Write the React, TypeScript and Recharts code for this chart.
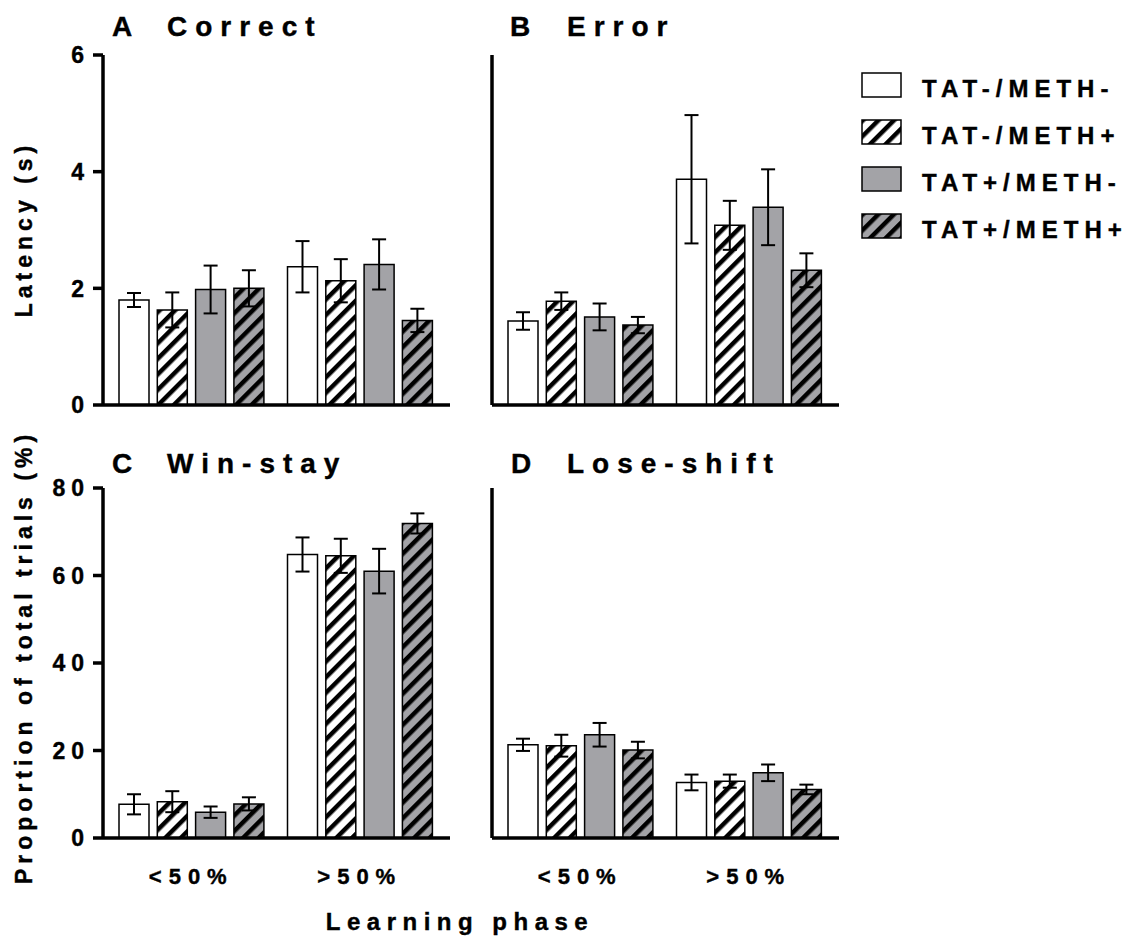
import React from "react";
import { BarChart, Bar, XAxis, YAxis, ErrorBar, Legend } from "recharts";

const FONT = '"Liberation Sans", Arial, Helvetica, sans-serif';
const GRAY = "#a3a3a7";

const phases = ["<50%", ">50%"];
const groups = ["TAT-/METH-", "TAT-/METH+", "TAT+/METH-", "TAT+/METH+"];

// rows: learning phase (<50%, >50%), columns: groups
const correctMean = [
  [1.8, 1.63, 1.98, 2.0],
  [2.37, 2.13, 2.41, 1.45],
];
const correctSem = [
  [0.12, 0.3, 0.41, 0.31],
  [0.44, 0.37, 0.43, 0.2],
];
const errorMean = [
  [1.44, 1.78, 1.51, 1.37],
  [3.87, 3.08, 3.39, 2.31],
];
const errorSem = [
  [0.15, 0.15, 0.23, 0.14],
  [1.1, 0.42, 0.65, 0.29],
];
const winStayMean = [
  [7.7, 8.3, 5.9, 7.8],
  [64.8, 64.5, 61.0, 71.9],
];
const winStaySem = [
  [2.3, 2.4, 1.3, 1.5],
  [3.9, 3.9, 5.1, 2.3],
];
const loseShiftMean = [
  [21.3, 21.1, 23.6, 20.1],
  [12.7, 13.0, 14.9, 11.1],
];
const loseShiftSem = [
  [1.4, 2.5, 2.7, 1.9],
  [1.8, 1.5, 1.9, 1.1],
];

const latencyTicks = [0, 2, 4, 6];
const percentTicks = [0, 20, 40, 60, 80];

const fills = ["#ffffff", "url(#hatchWhite)", GRAY, "url(#hatchGray)"];

const toRows = (mean: number[][], sem: number[][]) =>
  phases.map((phase, i) => {
    const row: any = { phase };
    groups.forEach((_, g) => {
      row["m" + g] = mean[i][g];
      row["e" + g] = sem[i][g];
    });
    return row;
  });

const Patterns = () => (
  <svg width={0} height={0} style={{ position: "absolute" }}>
    <defs>
      <pattern id="hatchWhite" patternUnits="userSpaceOnUse" width={11} height={11} patternTransform="rotate(45)">
        <rect width={11} height={11} fill="#fff" />
        <rect width={4.5} height={11} fill="#000" />
      </pattern>
      <pattern id="hatchGray" patternUnits="userSpaceOnUse" width={11} height={11} patternTransform="rotate(45)">
        <rect width={11} height={11} fill={GRAY} />
        <rect width={4.5} height={11} fill="#000" />
      </pattern>
    </defs>
  </svg>
);

// bold text, slightly thickened to match the heavy print of the original
const txt = { fill: "#000", stroke: "#000", strokeWidth: 0.4, fontFamily: FONT, fontWeight: "bold" } as const;

const YTick = (props: any) => {
  const { x, y, payload } = props;
  return (
    <text {...txt} x={x - 1} y={y} dy="0.36em" textAnchor="end" fontSize={23} letterSpacing={6}>
      {payload.value}
    </text>
  );
};

const XTick = (props: any) => {
  const { x, y, payload } = props;
  return (
    <text {...txt} x={x} y={y} dy="0.71em" textAnchor="middle" fontSize={22} letterSpacing={7}>
      {payload.value}
    </text>
  );
};

const LegendBoxes = () => (
  <svg width={290} height={190}>
    {groups.map((name, g) => (
      <g key={name} transform={`translate(0, ${g * 47})`}>
        <rect x={1} y={1} width={39} height={24} fill={fills[g]} stroke="#000" strokeWidth={1.5} />
        <text {...txt} x={61} y={25} fontSize={24} letterSpacing={6}>
          {name}
        </text>
      </g>
    ))}
  </svg>
);

const axisStyle = { stroke: "#000", strokeWidth: 3.5 };

const Panel = (props: any) => {
  const { rows, ticks, domain, left, top, width, height, margin, xLabels, yLabels, legend } = props;
  return (
    <div style={{ position: "absolute", left, top }}>
      <BarChart width={width} height={height} data={rows} margin={margin} barGap={8.3} barSize={30}>
        <XAxis
          dataKey="phase"
          height={xLabels ? 60 : 30}
          axisLine={axisStyle}
          tickLine={false}
          tickSize={0}
          tickMargin={30}
          tick={xLabels ? <XTick /> : false}
          padding={{ left: 4, right: 6 }}
        />
        <YAxis
          type="number"
          domain={domain}
          ticks={ticks}
          interval={0}
          width={60}
          axisLine={axisStyle}
          tickLine={axisStyle}
          tickSize={10}
          tick={yLabels ? <YTick /> : false}
        />
        {groups.map((name, g) => (
          <Bar key={name} name={name} dataKey={"m" + g} fill={fills[g]} stroke="#000" strokeWidth={1.5} isAnimationActive={false}>
            <ErrorBar dataKey={"e" + g} width={7} strokeWidth={2} stroke="#000" />
          </Bar>
        ))}
        {legend && (
          <Legend
            layout="vertical"
            align="center"
            verticalAlign="middle"
            wrapperStyle={{ left: 441, top: 72 }}
            content={() => <LegendBoxes />}
          />
        )}
      </BarChart>
    </div>
  );
};

export default function App() {
  return (
    <div style={{ position: "absolute", left: 0, top: 0, width: 1137, height: 938, background: "#fff" }}>
      <Patterns />
      <Panel
        rows={toRows(correctMean, correctSem)}
        ticks={latencyTicks}
        domain={[0, 6]}
        left={0}
        top={0}
        width={470}
        height={440}
        margin={{ top: 55, right: 20, bottom: 5, left: 43 }}
        xLabels={false}
        yLabels={true}
      />
      <Panel
        rows={toRows(errorMean, errorSem)}
        ticks={latencyTicks}
        domain={[0, 6]}
        left={420}
        top={0}
        width={717}
        height={440}
        margin={{ top: 55, right: 298, bottom: 5, left: 12 }}
        xLabels={false}
        yLabels={false}
        legend={true}
      />
      <Panel
        rows={toRows(winStayMean, winStaySem)}
        ticks={percentTicks}
        domain={[0, 80]}
        left={0}
        top={440}
        width={470}
        height={498}
        margin={{ top: 48, right: 20, bottom: 40, left: 43 }}
        xLabels={true}
        yLabels={true}
      />
      <Panel
        rows={toRows(loseShiftMean, loseShiftSem)}
        ticks={percentTicks}
        domain={[0, 80]}
        left={420}
        top={440}
        width={440}
        height={498}
        margin={{ top: 48, right: 21, bottom: 40, left: 12 }}
        xLabels={true}
        yLabels={false}
      />
      <svg width={1137} height={938} style={{ position: "absolute", left: 0, top: 0, pointerEvents: "none" }}>
        <g {...txt} fontSize={28} letterSpacing={8}>
          <text x={112} y={36}>A</text>
          <text x={167} y={36}>Correct</text>
          <text x={510} y={36}>B</text>
          <text x={567} y={36}>Error</text>
          <text x={112} y={473}>C</text>
          <text x={167} y={473}>Win-stay</text>
          <text x={511} y={473}>D</text>
          <text x={567} y={473}>Lose-shift</text>
        </g>
        <g {...txt} fontSize={23} letterSpacing={5}>
          <text x={32} y={229} textAnchor="middle" transform="rotate(-90 32 229)">Latency (s)</text>
          <text x={32} y={657} textAnchor="middle" transform="rotate(-90 32 657)">Proportion of total trials (%)</text>
        </g>
        <text {...txt} x={460} y={930} fontSize={24} letterSpacing={6.5} textAnchor="middle">Learning phase</text>
      </svg>
    </div>
  );
}
